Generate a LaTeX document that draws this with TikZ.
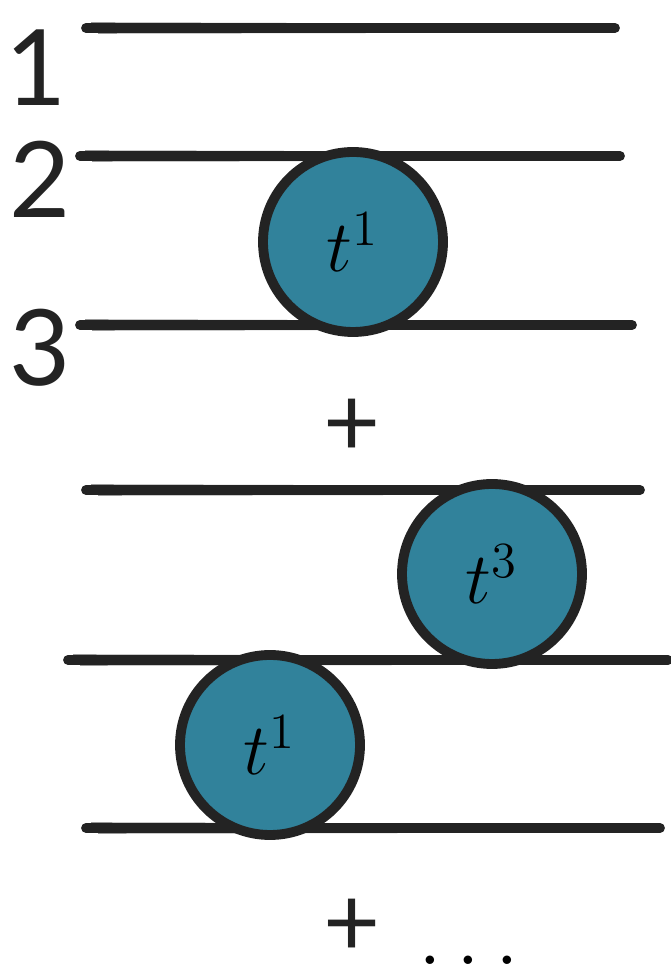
\documentclass[tikz,border=0pt]{standalone}
\usepackage{fontspec}
\setmainfont{Lato}
\usepackage{tikz}
\usetikzlibrary{calc,positioning}
\definecolor{InkBlack}{RGB}{35,35,35}
\definecolor{BallTeal}{RGB}{49,130,155}

\tikzset{
  brush/.style={InkBlack,line width=2.8pt,line cap=round},
  bristle/.style={InkBlack,line width=0.6pt,opacity=0.7},
  ball/.style={circle,draw=InkBlack,line width=2.8pt,fill=BallTeal,minimum size=1.8cm,inner sep=0pt,
    font=\fontsize{21}{25}\selectfont},
  rowlabel/.style={font=\fontsize{30}{36}\selectfont,text=InkBlack,inner sep=0pt},
  plussign/.style={font=\fontsize{28}{32}\selectfont,text=InkBlack,inner sep=0pt}
}

\begin{document}
\begin{tikzpicture}
    \useasboundingbox (0,0) rectangle (6.71,9.76);
    % upper group
    \coordinate (l1w) at (0.86,9.48);  \coordinate (l1e) at (6.15,9.48);
    \coordinate (l2w) at (0.80,8.20);  \coordinate (l2e) at (6.20,8.20);
    \coordinate (l3w) at (0.80,6.51);  \coordinate (l3e) at (6.32,6.51);
    % lower group
    \coordinate (law) at (0.86,4.86);  \coordinate (lae) at (6.40,4.86);
    \coordinate (lbw) at (0.68,3.16);  \coordinate (lbe) at (6.68,3.16);
    \coordinate (lcw) at (0.86,1.48);  \coordinate (lce) at (6.60,1.48);
    \foreach \w/\e in {l1w/l1e,l2w/l2e,l3w/l3e,law/lae,lbw/lbe,lcw/lce}{
      \draw[brush] (\w) -- (\e);
      \draw[bristle] ($(\w)+(0.05,0.045)$) -- ($(\e)+(-0.1,0.03)$);
      \draw[bristle] ($(\w)+(0.12,-0.045)$) -- ($(\e)+(-0.2,-0.035)$);
    }
    \node[rowlabel] (n1) at (0.36,9.08) {1};
    \node[rowlabel] (n2) at (0.40,7.97) {2};
    \node[rowlabel] (n3) at (0.40,6.28) {3};
    \node[ball] (t1a) at (3.53,7.34) {$t^1$};
    \node[plussign] (p1) at (3.52,5.48) {+};
    \node[ball] (t3) at (4.92,4.02) {$t^3$};
    \node[ball] (t1b) at (2.70,2.31) {$t^1$};
    \node[plussign] (p2) at (3.52,0.48) {+};
    \node[font=\fontsize{23}{27}\selectfont,inner sep=0pt] (dots) at (4.69,0.16) {$\ldots$};
  \end{tikzpicture}
\end{document}
